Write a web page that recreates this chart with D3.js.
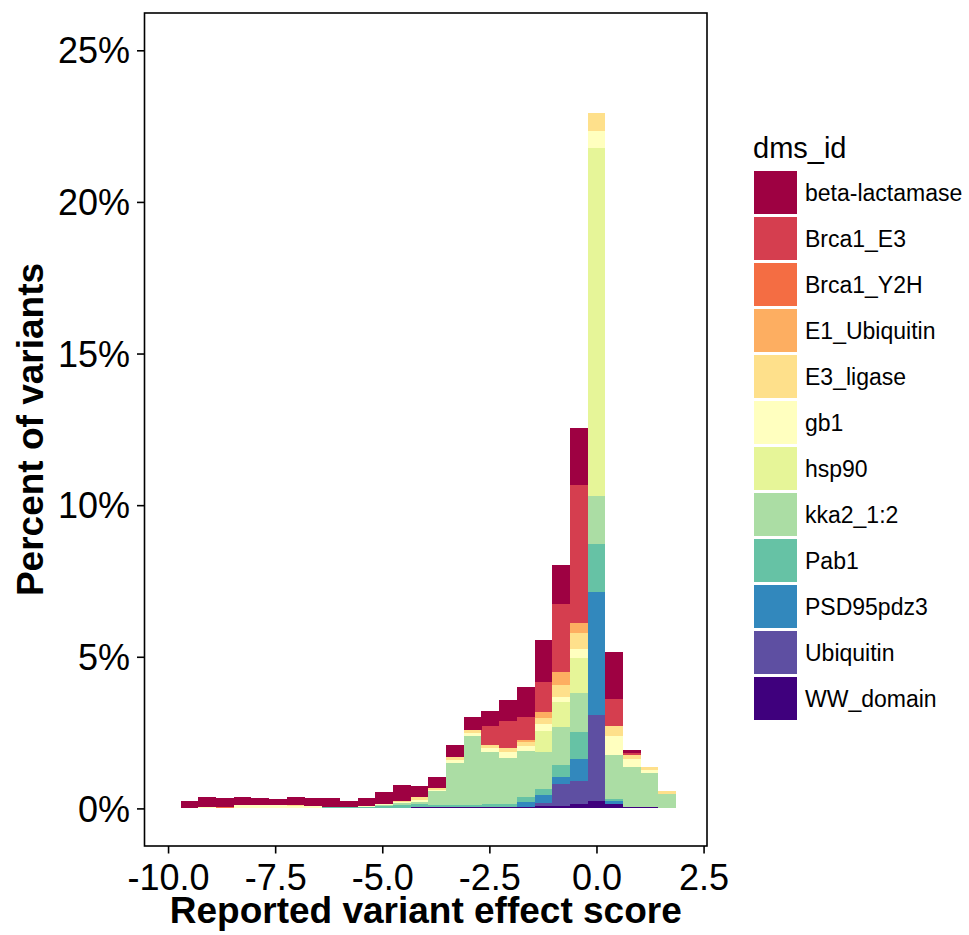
<!DOCTYPE html>
<html>
<head>
<meta charset="utf-8">
<script src="https://cdn.jsdelivr.net/npm/d3@7"></script>
<style>
  html, body { margin: 0; padding: 0; background: #fff; }
  svg text { font-family: "Liberation Sans", Arial, Helvetica, sans-serif; fill: #000; }
</style>
</head>
<body>
<svg id="chart" width="969" height="935"></svg>
<script>
// Histogram bins (centres, in score units)
const binCenters = [-9.50, -9.09, -8.67, -8.26, -7.85, -7.43, -7.02, -6.61, -6.20, -5.78,
                    -5.37, -4.96, -4.54, -4.13, -3.72, -3.30, -2.89, -2.48, -2.07, -1.65,
                    -1.24, -0.83, -0.41, 0.00, 0.41, 0.83, 1.24, 1.65];
const binWidth = 0.413;

const datasets = ["beta-lactamase", "Brca1_E3", "Brca1_Y2H", "E1_Ubiquitin", "E3_ligase", "gb1",
                  "hsp90", "kka2_1:2", "Pab1", "PSD95pdz3", "Ubiquitin", "WW_domain"];

const palette = ["#9E0142", "#D53E4F", "#F46D43", "#FDAE61", "#FEE08B", "#FFFFBF",
                 "#E6F598", "#ABDDA4", "#66C2A5", "#3288BD", "#5E4FA2", "#3F007D"];

// Percent of all variants falling in each bin, per dataset
const betaLactamase = [0.26, 0.36, 0.30, 0.26, 0.23, 0.20, 0.26, 0.26, 0.30, 0.20,
                       0.26, 0.40, 0.53, 0.39, 0.37, 0.40, 0.46, 0.50, 0.69, 0.96,
                       1.39, 1.29, 1.91, 0.00, 1.55, 0.10, 0.03, 0.03];
const brca1E3 =       [0, 0, 0, 0, 0, 0, 0, 0, 0, 0,
                       0, 0, 0, 0, 0, 0, 0, 0.63, 0.89, 0.76,
                       0.99, 2.24, 4.52, 0, 0.89, 0.07, 0, 0];
const brca1Y2H =      [0, 0, 0.03, 0, 0, 0, 0, 0, 0, 0,
                       0, 0, 0, 0, 0, 0, 0, 0, 0, 0,
                       0, 0, 0, 0, 0, 0, 0, 0];
const e1Ubiquitin =   [0, 0, 0, 0, 0, 0, 0, 0, 0, 0.03,
                       0, 0, 0, 0, 0, 0, 0, 0, 0, 0.07,
                       0.20, 0.43, 0.33, 0, 0, 0, 0, 0];
const e3Ligase =      [0, 0, 0, 0, 0, 0, 0.03, 0, 0, 0,
                       0, 0, 0.03, 0.08, 0.06, 0.10, 0.07, 0.10, 0.13, 0.13,
                       0.20, 0.40, 0.53, 0.59, 0.33, 0.13, 0.07, 0.07];
const gb1 =           [0, 0.03, 0, 0.10, 0.10, 0.10, 0.07, 0.07, 0, 0,
                       0.03, 0.04, 0.03, 0.08, 0.06, 0.07, 0.10, 0.13, 0.20, 0.17,
                       0.23, 0.16, 0.30, 0.56, 0.63, 0.26, 0.10, 0];
const hsp90 =         [0, 0, 0, 0, 0, 0, 0, 0, 0, 0,
                       0, 0, 0, 0, 0, 0, 0, 0, 0, 0,
                       0.69, 0.82, 1.15, 11.48, 0, 0, 0, 0];
const kka2 =          [0, 0, 0, 0, 0, 0, 0, 0, 0, 0,
                       0.03, 0.03, 0.07, 0.06, 0.44, 1.39, 2.30, 1.70, 1.52, 1.52,
                       1.22, 1.25, 1.29, 1.58, 1.45, 1.32, 1.15, 0.49];
const pab1 =          [0, 0, 0, 0, 0, 0, 0, 0, 0.03, 0.03,
                       0.03, 0.07, 0.10, 0.11, 0.09, 0.09, 0.07, 0.10, 0.09, 0.17,
                       0.20, 0.40, 0.89, 1.58, 0.07, 0, 0, 0];
const psd95pdz3 =     [0, 0, 0, 0, 0, 0, 0, 0, 0, 0,
                       0, 0, 0, 0, 0, 0, 0, 0, 0.03, 0.15,
                       0.26, 0.23, 0.73, 4.06, 0.10, 0, 0, 0];
const ubiquitin =     [0, 0, 0, 0, 0, 0, 0, 0, 0, 0,
                       0, 0, 0, 0, 0, 0, 0, 0, 0, 0,
                       0.10, 0.73, 0.76, 2.84, 0, 0, 0, 0];
const wwDomain =      [0, 0, 0, 0, 0, 0, 0, 0, 0, 0,
                       0, 0, 0, 0.03, 0.03, 0.03, 0.03, 0.06, 0.03, 0.06,
                       0.08, 0.08, 0.15, 0.25, 0.15, 0.05, 0.03, 0];

const seriesValues = [betaLactamase, brca1E3, brca1Y2H, e1Ubiquitin, e3Ligase, gb1,
                      hsp90, kka2, pab1, psd95pdz3, ubiquitin, wwDomain];

const xTicks = [-10.0, -7.5, -5.0, -2.5, 0.0, 2.5];
const yTicks = [0, 5, 10, 15, 20, 25];

// Panel geometry
const panel = { left: 144.5, right: 707, top: 13, bottom: 846 };

const x = d3.scaleLinear().domain([-10.55, 2.58]).range([panel.left, panel.right]);
const y = d3.scaleLinear().domain([-1.24, 26.23]).range([panel.bottom, panel.top]);

const color = d3.scaleOrdinal().domain(datasets).range(palette);

// Table: one row per bin
const table = binCenters.map((c, i) => {
  const row = { center: c };
  datasets.forEach((name, j) => { row[name] = seriesValues[j][i]; });
  return row;
});

// First dataset ends up on top of each stack, last one at the bottom
const stack = d3.stack().keys(datasets.slice().reverse());
const layers = stack(table);

const svg = d3.select("#chart");
svg.append("rect").attr("width", 969).attr("height", 935).attr("fill", "#fff");

const plot = svg.append("g");

plot.selectAll("g.layer")
  .data(layers)
  .join("g")
  .attr("class", "layer")
  .attr("fill", d => color(d.key))
  .selectAll("rect")
  .data(d => d.filter(s => s[1] - s[0] > 0))
  .join("rect")
  .attr("x", d => x(d.data.center - binWidth / 2))
  .attr("width", d => x(d.data.center + binWidth / 2) - x(d.data.center - binWidth / 2))
  .attr("y", d => y(d[1]))
  .attr("height", d => y(d[0]) - y(d[1]))
  .attr("shape-rendering", "crispEdges");

// Panel border
svg.append("rect")
  .attr("x", panel.left).attr("y", panel.top)
  .attr("width", panel.right - panel.left).attr("height", panel.bottom - panel.top)
  .attr("fill", "none").attr("stroke", "#000").attr("stroke-width", 1.6);

// X axis
const xAxis = d3.axisBottom(x).tickValues(xTicks).tickFormat(d3.format(".1f")).tickSize(7.5).tickPadding(8);
const gx = svg.append("g").attr("transform", `translate(0,${panel.bottom})`).call(xAxis);
gx.select(".domain").remove();
gx.selectAll(".tick line").attr("stroke", "#000").attr("stroke-width", 1.6);
gx.selectAll(".tick text")
  .attr("font-size", 36).attr("dy", null).attr("y", 44)
  .style("font-family", "'Liberation Sans', Arial, Helvetica, sans-serif")
  .text(d => d3.format(".1f")(d).replace("−", "-"));

// Y axis
const yAxis = d3.axisLeft(y).tickValues(yTicks).tickFormat(d => d + "%").tickSize(7.5).tickPadding(7);
const gy = svg.append("g").attr("transform", `translate(${panel.left},0)`).call(yAxis);
gy.select(".domain").remove();
gy.selectAll(".tick line").attr("stroke", "#000").attr("stroke-width", 1.6);
gy.selectAll(".tick text")
  .attr("font-size", 36).attr("dy", "0.35em")
  .style("font-family", "'Liberation Sans', Arial, Helvetica, sans-serif");

// Axis titles
svg.append("text")
  .attr("x", (panel.left + panel.right) / 2).attr("y", 923)
  .attr("text-anchor", "middle").attr("font-size", 37).attr("font-weight", "bold")
  .text("Reported variant effect score");

svg.append("text")
  .attr("transform", `translate(43,${(panel.top + panel.bottom) / 2}) rotate(-90)`)
  .attr("text-anchor", "middle").attr("font-size", 37).attr("font-weight", "bold")
  .text("Percent of variants");

// Legend
const legend = svg.append("g").attr("transform", "translate(753,0)");
legend.append("text").attr("x", 0).attr("y", 158).attr("font-size", 29).text("dms_id");

const item = legend.selectAll("g.item")
  .data(datasets)
  .join("g")
  .attr("class", "item")
  .attr("transform", (d, i) => `translate(0,${171 + i * 46})`);

item.append("rect")
  .attr("x", 1).attr("y", 0).attr("width", 43).attr("height", 43)
  .attr("fill", d => color(d));

item.append("text")
  .attr("x", 52).attr("y", 21.5).attr("dy", "0.35em")
  .attr("font-size", 23)
  .text(d => d);
</script>
</body>
</html>
